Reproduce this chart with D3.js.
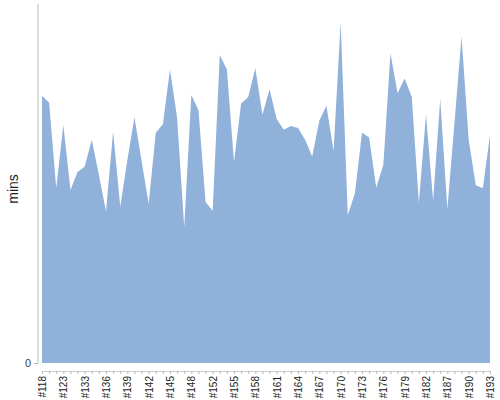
<!DOCTYPE html>
<html>
<head>
<meta charset="utf-8">
<script src="https://cdn.jsdelivr.net/npm/d3@7"></script>
<style>
  html, body { margin: 0; padding: 0; background: #fff; }
  svg { display: block; }
  text { font-family: "Liberation Sans", Arial, sans-serif; }
</style>
</head>
<body>
<div id="chart"></div>
<script>
const categories = ["#118","#120","#122","#123","#126","#130","#133","#134","#135","#136","#137","#138",
  "#139","#140","#141","#142","#143","#144","#145","#146","#147","#148","#149","#150",
  "#152","#153","#154","#155","#156","#157","#158","#159","#160","#161","#162","#163",
  "#164","#165","#166","#167","#168","#169","#170","#171","#172","#173","#174","#175",
  "#176","#177","#178","#179","#180","#181","#182","#184","#185","#187","#188","#189",
  "#190","#191","#192","#193"];
const minsValues = [44.8,43.6,29.3,39.9,29.0,32.0,32.9,37.4,31.5,25.4,38.8,26.2,
  34.0,41.2,33.9,26.7,38.6,40.0,49.2,41.1,22.8,44.9,42.4,27.0,
  25.5,51.6,49.2,33.7,43.5,44.6,49.4,41.6,45.9,40.9,39.1,39.7,
  39.4,37.4,34.6,40.6,43.1,35.5,57.1,24.8,28.4,38.6,37.8,29.4,
  33.2,51.9,45.2,47.7,44.6,26.8,41.7,27.2,44.3,25.8,40.2,54.7,
  37.4,29.8,29.3,38.2];
const tickLabels = ["#118","#123","#133","#136","#139","#142","#145","#148","#152","#155","#158",
  "#161","#164","#167","#170","#173","#176","#179","#182","#187","#190","#193"];
const yDomain = [0, 60];
const yTicks = [0];
const yTitle = "mins";

const W = 500, H = 400;
const svg = d3.select("#chart").append("svg").attr("width", W).attr("height", H);

const x = d3.scalePoint().domain(categories).range([42, 490]);
const y = d3.scaleLinear().domain(yDomain).range([363, 5]);

const data = categories.map((c, i) => ({ c, v: minsValues[i] }));

const area = d3.area()
  .x(d => x(d.c))
  .y0(y(0))
  .y1(d => y(d.v));

svg.append("path")
  .datum(data)
  .attr("d", area)
  .attr("fill", "#8fb1da");

// y axis
const yAxis = svg.append("g").attr("transform", "translate(38,0)")
  .call(d3.axisLeft(y).tickValues(yTicks).tickSize(4).tickPadding(3));
yAxis.select(".domain").attr("d", `M0,${y.range()[1] - 1}V${y(0)}`).attr("stroke", "#bbb");
yAxis.selectAll(".tick line").attr("stroke", "#bbb");
yAxis.selectAll(".tick text").attr("fill", "#444").style("font-size", "11px")
  .style("font-family", "'Liberation Sans', Arial, sans-serif");

// x axis
const xAxis = svg.append("g").attr("transform", "translate(0,371)")
  .call(d3.axisBottom(x).tickSize(3).tickSizeOuter(0)
    .tickFormat(d => tickLabels.includes(d) ? d : ""));
xAxis.select(".domain").attr("stroke", "#ccc");
xAxis.selectAll(".tick line").attr("stroke", "#bbb");
xAxis.selectAll(".tick text")
  .attr("fill", "#222")
  .style("font-size", "10px")
  .style("font-family", "'Liberation Sans', Arial, sans-serif")
  .attr("transform", "rotate(-90)")
  .attr("text-anchor", "end")
  .attr("x", -5)
  .attr("y", 0)
  .attr("dy", "0.35em");

// y title
svg.append("text")
  .attr("transform", `translate(18,${(y(0) + y.range()[1]) / 2 + 5}) rotate(-90)`)
  .attr("text-anchor", "middle")
  .attr("fill", "#222")
  .style("font-size", "14px")
  .text(yTitle);
</script>
</body>
</html>
